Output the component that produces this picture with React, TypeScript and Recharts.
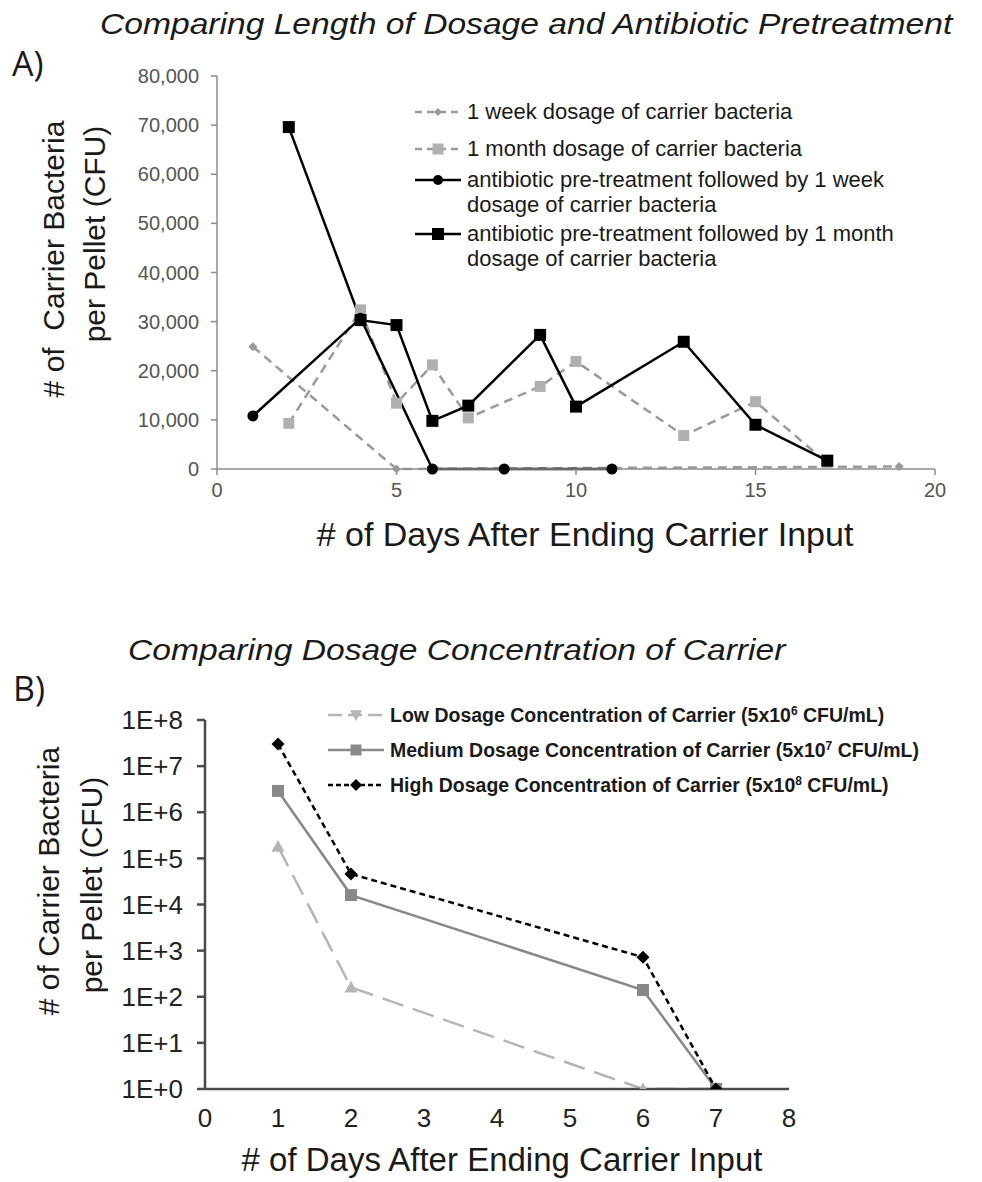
import React from "react";
import { LineChart, Line, XAxis, YAxis } from "recharts";

// ---- panel A data (days after ending carrier input, CFU per pellet)
const weekDays = [1, 5, 19];
const weekCfu = [24900, 0, 500];
const monthDays = [2, 4, 5, 6, 7, 9, 10, 13, 15, 17];
const monthCfu = [9300, 32400, 13400, 21200, 10400, 16800, 21900, 6800, 13700, 1200];
const abxWeekDays = [1, 4, 6, 8, 11];
const abxWeekCfu = [10800, 30700, 0, 0, 0];
const abxMonthDays = [2, 4, 5, 6, 7, 9, 10, 13, 15, 17];
const abxMonthCfu = [69600, 30300, 29300, 9800, 12900, 27300, 12700, 25900, 9000, 1700];
const aXTicks = [0, 5, 10, 15, 20];
const aYTicks = [0, 10000, 20000, 30000, 40000, 50000, 60000, 70000, 80000];

// ---- panel B data
const bDays = [1, 2, 6, 7];
const lowCfu = [180000, 160, 1, 1];
const mediumCfu = [2900000, 16000, 140, 1];
const highCfu = [30000000, 46000, 720, 1];
const bXTicks = [0, 1, 2, 3, 4, 5, 6, 7, 8];
const bYTicks = [1, 10, 100, 1e3, 1e4, 1e5, 1e6, 1e7, 1e8];

const pts = (days: number[], vals: number[]) => days.map((d, i) => ({ day: d, cfu: vals[i] }));
const bRows = bDays.map((d, i) => ({ day: d, low: lowCfu[i], medium: mediumCfu[i], high: highCfu[i] }));

const FONT = "'Liberation Sans', Arial, sans-serif";

function markerPath(kind: string, cx: number, cy: number, s: number) {
  const h = s / 2;
  if (kind === "diamond") return `M${cx} ${cy - h}L${cx + h} ${cy}L${cx} ${cy + h}L${cx - h} ${cy}Z`;
  if (kind === "square") return `M${cx - h} ${cy - h}h${s}v${s}h${-s}Z`;
  if (kind === "triUp") return `M${cx} ${cy - h}L${cx + h} ${cy + h * 0.8}L${cx - h} ${cy + h * 0.8}Z`;
  if (kind === "triDown") return `M${cx} ${cy + h}L${cx + h} ${cy - h * 0.8}L${cx - h} ${cy - h * 0.8}Z`;
  return "";
}

function Marker({ kind, cx, cy, size, fill }: any) {
  if (kind === "circle") return <circle cx={cx} cy={cy} r={size / 2} fill={fill} />;
  return <path d={markerPath(kind, cx, cy, size)} fill={fill} />;
}

const dot = (kind: string, size: number, fill: string) => (p: any) => {
  const { cx, cy, index } = p;
  if (cx == null || cy == null) return <g key={`e${index}`} />;
  return <Marker key={`m${index}`} kind={kind} cx={cx} cy={cy} size={size} fill={fill} />;
};

function LegendIcon({ kind, color, dash, size, fill, width = 46 }: any) {
  return (
    <svg width={width} height={16} style={{ flex: "none", display: "block" }}>
      <line x1={2} y1={8} x2={width - 2} y2={8} stroke={color} strokeWidth={2.5} strokeDasharray={dash} />
      <Marker kind={kind} cx={width / 2} cy={8} size={size} fill={fill} />
    </svg>
  );
}

function Txt({ x, y, size, children, style }: any) {
  return (
    <div
      style={{
        position: "absolute",
        left: x,
        top: y,
        transform: "translate(-50%, -50%)",
        whiteSpace: "nowrap",
        fontFamily: FONT,
        fontSize: size,
        lineHeight: 1.1,
        color: "#1a1a1a",
        ...style,
      }}
    >
      {children}
    </div>
  );
}

function VTxt({ x, y, size, children }: any) {
  return (
    <Txt x={x} y={y} size={size} style={{ transform: "translate(-50%, -50%) rotate(-90deg)" }}>
      {children}
    </Txt>
  );
}

function Title({ x, y, children }: any) {
  return (
    <div
      style={{
        position: "absolute",
        left: x,
        top: y,
        fontFamily: FONT,
        fontStyle: "italic",
        fontSize: 30,
        color: "#1a1a1a",
        whiteSpace: "nowrap",
        transform: "scaleX(1.12)",
        transformOrigin: "left center",
      }}
    >
      {children}
    </div>
  );
}

const legendA = [
  { label: ["1 week dosage of carrier bacteria"], kind: "diamond", color: "#9a9a9a", dash: "7 5", size: 8, fill: "#9a9a9a", gap: 12 },
  { label: ["1 month dosage of carrier bacteria"], kind: "square", color: "#9a9a9a", dash: "7 5", size: 11, fill: "#b0b0b0", gap: 6 },
  { label: ["antibiotic pre-treatment followed by 1 week", "dosage of carrier bacteria"], kind: "circle", color: "#000", dash: undefined, size: 10, fill: "#000", gap: 4 },
  { label: ["antibiotic pre-treatment followed by 1 month", "dosage of carrier bacteria"], kind: "square", color: "#000", dash: undefined, size: 12, fill: "#000", gap: 0 },
];

const legendB = [
  { pre: "Low Dosage Concentration of Carrier (5x10", sup: "6", kind: "triDown", color: "#b5b5b5", dash: "14 6", size: 12, fill: "#b5b5b5" },
  { pre: "Medium Dosage Concentration of Carrier (5x10", sup: "7", kind: "square", color: "#888", dash: undefined, size: 11, fill: "#888" },
  { pre: "High Dosage Concentration of Carrier (5x10", sup: "8", kind: "diamond", color: "#000", dash: "5 3", size: 12, fill: "#000" },
];

export default function App() {
  const axisA = { stroke: "#8c8c8c", strokeWidth: 1.5 };
  const tickA = { fontSize: 20, fill: "#555", fontFamily: FONT };
  const axisB = { stroke: "#4a4a4a", strokeWidth: 2.5 };
  const tickB = { fontSize: 26, fill: "#222", fontFamily: FONT };

  return (
    <div style={{ position: "absolute", left: 0, top: 0, width: 982, height: 1182, background: "#fff", overflow: "hidden" }}>
      {/* Panel A */}
      <div style={{ position: "absolute", left: 0, top: 0 }}>
        <LineChart width={982} height={570} margin={{ top: 76, right: 47, left: 0, bottom: 61 }}>
          <XAxis
            type="number"
            dataKey="day"
            domain={[0, 20]}
            ticks={aXTicks}
            axisLine={axisA}
            tickLine={axisA}
            tickSize={6}
            tickMargin={8}
            tick={tickA}
            height={40}
            allowDuplicatedCategory={false}
          />
          <YAxis
            type="number"
            domain={[0, 80000]}
            ticks={aYTicks}
            axisLine={axisA}
            tickLine={axisA}
            tickSize={6}
            tickMargin={12}
            tick={tickA}
            width={217}
            tickFormatter={(v: number) => v.toLocaleString("en-US")}
          />
          <Line data={pts(weekDays, weekCfu)} dataKey="cfu" stroke="#9a9a9a" strokeWidth={2.5} strokeDasharray="9 6" dot={dot("diamond", 9, "#9a9a9a")} isAnimationActive={false} />
          <Line data={pts(monthDays, monthCfu)} dataKey="cfu" stroke="#9a9a9a" strokeWidth={2.5} strokeDasharray="9 6" dot={dot("square", 11, "#b0b0b0")} isAnimationActive={false} />
          <Line data={pts(abxWeekDays, abxWeekCfu)} dataKey="cfu" stroke="#000" strokeWidth={2.5} dot={dot("circle", 11, "#000")} isAnimationActive={false} />
          <Line data={pts(abxMonthDays, abxMonthCfu)} dataKey="cfu" stroke="#000" strokeWidth={2.5} dot={dot("square", 12, "#000")} isAnimationActive={false} />
        </LineChart>
      </div>

      <Title x={100} y={7}>Comparing Length of Dosage and Antibiotic Pretreatment</Title>
      <div style={{ position: "absolute", left: 12, top: 40, fontFamily: "'Open Sans', sans-serif", fontSize: 34, color: "#1a1a1a" }}>A)</div>
      <VTxt x={53} y={259} size={30}># of&nbsp;&nbsp;Carrier Bacteria</VTxt>
      <VTxt x={94} y={234} size={30}>per Pellet (CFU)</VTxt>
      <Txt x={585} y={535} size={34}># of Days After Ending Carrier Input</Txt>

      <div style={{ position: "absolute", left: 413, top: 99, fontFamily: FONT, fontSize: 22, color: "#1a1a1a", lineHeight: "25px" }}>
        {legendA.map((it, i) => (
          <div key={i} style={{ display: "flex", alignItems: "flex-start", marginBottom: it.gap }}>
            <div style={{ paddingTop: 5 }}>
              <LegendIcon kind={it.kind} color={it.color} dash={it.dash} size={it.size} fill={it.fill} width={50} />
            </div>
            <div style={{ marginLeft: 4 }}>
              {it.label.map((l, j) => (
                <div key={j}>{l}</div>
              ))}
            </div>
          </div>
        ))}
      </div>

      {/* Panel B */}
      <div style={{ position: "absolute", left: 0, top: 600 }}>
        <LineChart width={982} height={582} data={bRows} margin={{ top: 120, right: 193, left: 0, bottom: 53 }}>
          <XAxis
            type="number"
            dataKey="day"
            domain={[0, 8]}
            ticks={bXTicks}
            axisLine={axisB}
            tickLine={false}
            tickMargin={14}
            tick={tickB}
            height={40}
          />
          <YAxis
            scale="log"
            domain={[1, 1e8]}
            ticks={bYTicks}
            axisLine={axisB}
            tickLine={axisB}
            tickSize={8}
            tickMargin={14}
            tick={tickB}
            width={205}
            allowDataOverflow
            tickFormatter={(v: number) => `1E+${Math.round(Math.log10(v))}`}
          />
          <Line dataKey="low" stroke="#b5b5b5" strokeWidth={2.5} strokeDasharray="22 10" dot={dot("triUp", 13, "#b5b5b5")} isAnimationActive={false} />
          <Line dataKey="medium" stroke="#888" strokeWidth={2.5} dot={dot("square", 12, "#888")} isAnimationActive={false} />
          <Line dataKey="high" stroke="#000" strokeWidth={2.5} strokeDasharray="6 4" dot={dot("diamond", 13, "#000")} isAnimationActive={false} />
        </LineChart>
      </div>

      <Title x={128} y={633}>Comparing Dosage Concentration of Carrier</Title>
      <div style={{ position: "absolute", left: 13, top: 665, fontFamily: "'Open Sans', sans-serif", fontSize: 34, color: "#1a1a1a" }}>B)</div>
      <VTxt x={48} y={881} size={30}># of Carrier Bacteria</VTxt>
      <VTxt x={91} y={885} size={30}>per Pellet (CFU)</VTxt>
      <Txt x={502} y={1160} size={33}># of Days After Ending Carrier Input</Txt>

      <div style={{ position: "absolute", left: 326, top: 703, fontFamily: FONT, fontWeight: "bold", fontSize: 19.5, color: "#1a1a1a", lineHeight: "24px" }}>
        {legendB.map((it, i) => (
          <div key={i} style={{ display: "flex", alignItems: "center", marginBottom: 11 }}>
            <LegendIcon kind={it.kind} color={it.color} dash={it.dash} size={it.size} fill={it.fill} width={60} />
            <div style={{ marginLeft: 4 }}>
              {it.pre}
              <sup style={{ fontSize: 12, lineHeight: 0 }}>{it.sup}</sup> CFU/mL)
            </div>
          </div>
        ))}
      </div>
    </div>
  );
}
